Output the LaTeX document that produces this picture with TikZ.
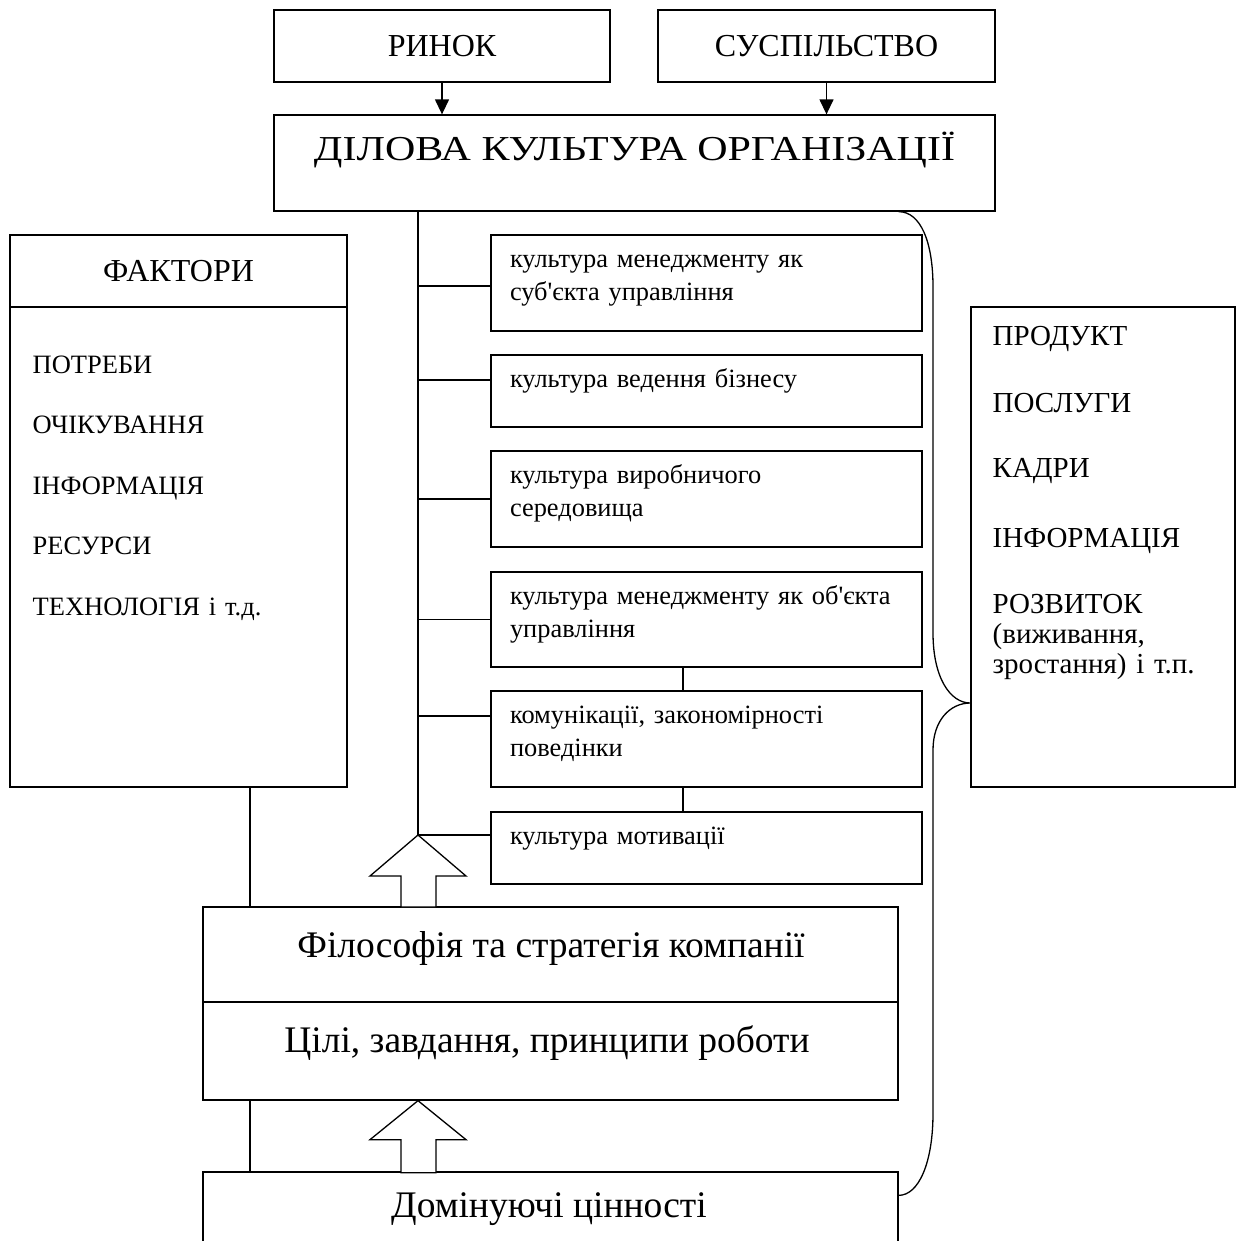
\documentclass[tikz,border=0pt]{standalone}
\usepackage{fontspec}
\setmainfont{Liberation Serif}
\newfontfamily\widefont{Liberation Serif}[FakeStretch=1.2]
\usetikzlibrary{arrows.meta,calc}

\begin{document}
\begin{tikzpicture}[
  x=1pt, y=-1pt,
  line width=1.3pt,
  box/.style    = {rectangle, draw, inner sep=0pt, font=\fontsize{32}{34}\selectfont},
  sub/.style    = {box, minimum width=431pt},
  lbl/.style    = {inner sep=0pt, anchor=base, font=\fontsize{28}{30}\selectfont},
  item/.style   = {inner sep=0pt, anchor=base west, text width=300pt, align=left, font=\fontsize{26.5}{30}\selectfont},
  ritem/.style  = {item, text width=250pt, font=\fontsize{29}{30}\selectfont},
  cell/.style   = {inner sep=0pt, anchor=base west, text width=420pt, align=left, font=\fontsize{26.4}{33}\selectfont},
  big/.style    = {lbl, font=\fontsize{37.5}{40}\selectfont},
  hollow/.style = {fill=white, line join=miter},
  link/.style   = {-{Triangle[length=15pt,width=14pt]}}
]
\useasboundingbox (0,0) rectangle (1242,1240);

% Top row
\node[box, minimum width=336pt, minimum height=72pt] (rynok) at (442,46) {РИНОК};
\node[box, minimum width=337pt, minimum height=72pt] (susp) at (826.5,46) {СУСПІЛЬСТВО};
\node[box, minimum width=721pt, minimum height=96pt] (dilova) at (634.5,163) {};
\node[lbl, font=\widefont\fontsize{35}{40}\selectfont] (dilovalbl) at (634.5,160) {ДІЛОВА КУЛЬТУРА ОРГАНІЗАЦІЇ};
\draw[link] (rynok.south) -- (rynok.south |- dilova.north);
\draw[link] (susp.south) -- (susp.south |- dilova.north);

% Factors column
\node[box, minimum width=337pt, minimum height=72pt] (fhead) at (178.5,271) {ФАКТОРИ};
\node[box, minimum width=337pt, minimum height=480pt] (fbody) at (178.5,547) {};
\foreach \i/\txt in {0/ПОТРЕБИ, 1/ОЧІКУВАННЯ, 2/ІНФОРМАЦІЯ, 3/РЕСУРСИ, 4/ТЕХНОЛОГІЯ і т.д.}
  \node[item] (f\i) at (32,373+60.5*\i) {\txt};

% Results column
\node[box, minimum width=264pt, minimum height=480pt] (prod) at (1103,547) {};
\node[ritem] (r0) at (992,345) {ПРОДУКТ};
\node[ritem] (r1) at (992,412) {ПОСЛУГИ};
\node[ritem] (r2) at (992,477) {КАДРИ};
\node[ritem] (r3) at (992,547) {ІНФОРМАЦІЯ};
\node[ritem] (r4) at (992,613) {РОЗВИТОК\\(виживання,\\зростання) і т.п.};

% Components of business culture
\node[sub, minimum height=96pt] (b1) at (706.5,283) {};
\node[sub, minimum height=72pt] (b2) at (706.5,391) {};
\node[sub, minimum height=96pt] (b3) at (706.5,499) {};
\node[sub, minimum height=95pt] (b4) at (706.5,619.5) {};
\node[sub, minimum height=96pt] (b5) at (706.5,739) {};
\node[sub, minimum height=72pt] (b6) at (706.5,848) {};
\node[cell] (c1) at ([xshift=19pt,yshift=-33pt]b1.north west) {культура менеджменту як\\суб\textquotesingle єкта управління};
\node[cell] (c2) at ([xshift=19pt,yshift=-33pt]b2.north west) {культура ведення бізнесу};
\node[cell] (c3) at ([xshift=19pt,yshift=-33pt]b3.north west) {культура виробничого\\середовища};
\node[cell] (c4) at ([xshift=19pt,yshift=-33pt]b4.north west) {культура менеджменту як об\textquotesingle єкта\\управління};
\node[cell] (c5) at ([xshift=19pt,yshift=-33pt]b5.north west) {комунікації, закономірності\\поведінки};
\node[cell] (c6) at ([xshift=19pt,yshift=-33pt]b6.north west) {культура мотивації};

% Trunk with branches
\coordinate (trunkend) at (418,835);
\draw (dilova.south -| trunkend) -- (trunkend);
\foreach \b/\dy in {b1/-3, b2/11, b3/0, b4/0, b5/23, b6/13}
  \draw ([yshift=\dy pt]\b.west) coordinate (br) -- (br -| trunkend);
\draw ([xshift=-23.5pt]b4.south) -- ([xshift=-23.5pt]b5.north);
\draw ([xshift=-23.5pt]b5.south) -- ([xshift=-23.5pt]b6.north);

% Philosophy, goals, values
\node[box, minimum width=695pt, minimum height=95pt] (phil) at (550.5,954.5) {};
\node[box, minimum width=695pt, minimum height=98pt] (goals) at (550.5,1051) {};
\node[box, minimum width=695pt, minimum height=100pt] (domin) at (550.5,1222) {};
\node[big] (phillbl) at (551,957) {Філософія та стратегія компанії};
\node[big] (goalslbl) at (547,1052) {Цілі, завдання, принципи роботи};
\node[big] (dominlbl) at (549,1217) {Домінуючі цінності};

% Left link
\coordinate (lft) at (250,0);
\draw (fbody.south -| lft) -- (phil.north -| lft);
\draw (goals.south -| lft) -- (domin.north -| lft);

% Hollow arrows
\draw[hollow] (trunkend) -- ++(48,41) -- ++(-30,0) -- ++(0,31) -- ++(-35,0) -- ++(0,-31) -- ++(-31,0) -- cycle;
\draw[hollow] (goals.south -| trunkend) -- ++(48,39) -- ++(-30,0) -- ++(0,33) -- ++(-35,0) -- ++(0,-33) -- ++(-31,0) -- cycle;

% Brace
\coordinate (bracetip) at ([yshift=-156pt]prod.west);
\draw (dilova.south -| domin.east) .. controls +(22,0) and +(0,-45) .. (933,287)
  -- (933,633) .. controls +(0,45) and +(-20,0) .. (bracetip)
  .. controls +(-20,0) and +(0,-30) .. (933,750)
  -- (933,1113) .. controls +(0,50) and +(20,0) .. ([yshift=-24pt]domin.north east);
\end{tikzpicture}
\end{document}
